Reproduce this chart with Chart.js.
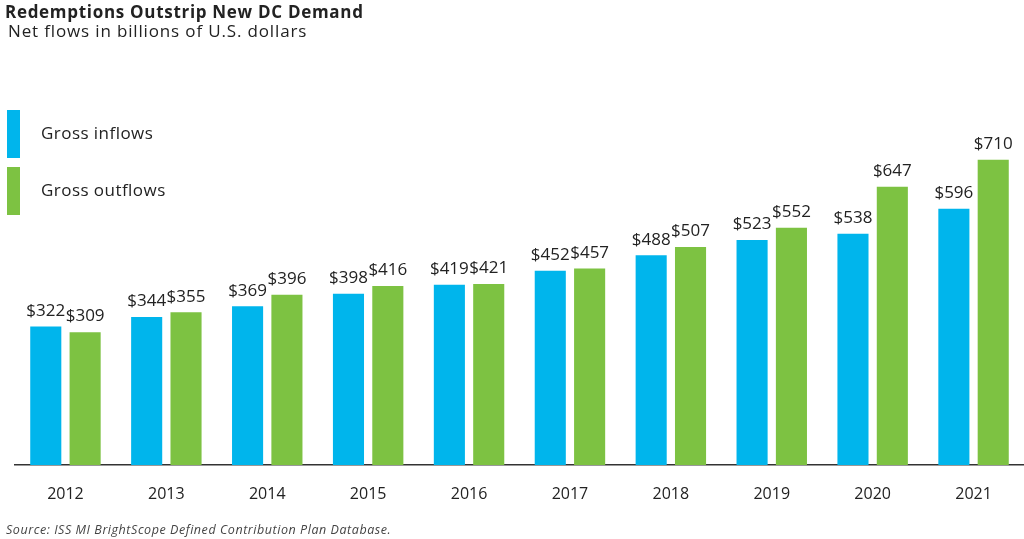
<!DOCTYPE html>
<html>
<head>
<meta charset="utf-8">
<script src="https://cdn.jsdelivr.net/npm/chart.js@4"></script>
<style>
  body { margin: 0; background: #fff; font-family: "Open Sans", sans-serif; color: #222; }
  #wrap { position: relative; width: 1024px; height: 539px; overflow: hidden; }
  #chart { position: absolute; left: 0; top: 0; }
  .title { position: absolute; left: 5px; top: 0px; font-size: 17px; font-weight: bold; letter-spacing: 0.7px; }
  .sub { position: absolute; left: 8px; top: 19px; font-size: 17px; letter-spacing: 0.85px; }
  .leg { position: absolute; left: 7px; width: 13px; height: 48px; }
  .legtxt { position: absolute; left: 41px; font-size: 17px; letter-spacing: 0.45px; }
  .src { position: absolute; left: 6px; top: 521px; font-size: 12.5px; font-style: italic; color: #444; letter-spacing: 0.55px; }
</style>
</head>
<body>
<div id="wrap">
  <canvas id="chart" width="1024" height="539"></canvas>
  <div class="title">Redemptions Outstrip New DC Demand</div>
  <div class="sub">Net flows in billions of U.S. dollars</div>
  <div class="leg" style="top:110px;background:#00b5ec"></div>
  <div class="legtxt" style="top:121px">Gross inflows</div>
  <div class="leg" style="top:167px;background:#7dc242"></div>
  <div class="legtxt" style="top:178px">Gross outflows</div>
  <div class="src">Source: ISS MI BrightScope Defined Contribution Plan Database.</div>
</div>
<script>
// data
const years = ['2012', '2013', '2014', '2015', '2016', '2017', '2018', '2019', '2020', '2021'];
const inflows = [322, 344, 369, 398, 419, 452, 488, 523, 538, 596];
const outflows = [309, 355, 396, 416, 421, 457, 507, 552, 647, 710];

// value labels above bars
const barLabels = {
  id: 'barLabels',
  afterDatasetsDraw(chart) {
    const ctx = chart.ctx;
    ctx.save();
    ctx.font = '17px "Open Sans"';
    ctx.fillStyle = '#222';
    ctx.textAlign = 'center';
    ctx.textBaseline = 'bottom';
    chart.data.datasets.forEach((ds, i) => {
      chart.getDatasetMeta(i).data.forEach((bar, j) => {
        ctx.fillText('$' + ds.data[j], bar.x, bar.y - 7);
      });
    });
    ctx.restore();
  }
};

const myChart = new Chart(document.getElementById('chart'), {
  type: 'bar',
  data: {
    labels: years,
    datasets: [
      { label: 'Gross inflows', data: inflows, backgroundColor: '#00b5ec' },
      { label: 'Gross outflows', data: outflows, backgroundColor: '#7dc242' }
    ]
  },
  options: {
    responsive: false,
    animation: false,
    categoryPercentage: 0.78,
    barPercentage: 0.79,
    layout: { padding: { left: 15, right: 0, top: 121, bottom: 0 } },
    plugins: { legend: { display: false }, tooltip: { enabled: false } },
    scales: {
      x: {
        grid: { display: false, drawTicks: false },
        border: { display: true, color: '#333', width: 1.5 },
        ticks: { color: '#222', font: { family: 'Open Sans', size: 16 }, padding: 20 },
        afterFit(s) { s.height = 74; }
      },
      y: { display: false, min: 0, max: 800 }
    }
  },
  plugins: [barLabels]
});
</script>
</body>
</html>
